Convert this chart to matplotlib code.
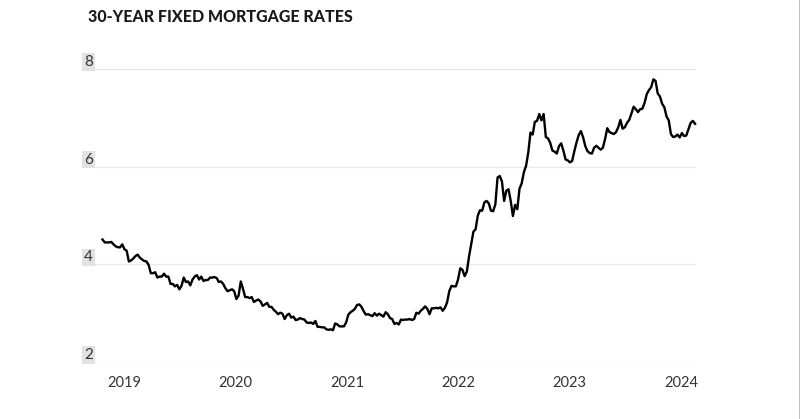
import numpy as np
import pandas as pd
import matplotlib.pyplot as plt
from matplotlib.lines import Line2D

# Tassi settimanali (giovedi), mutuo fisso 30 anni
rates_2019 = [4.51, 4.45, 4.45, 4.45, 4.46, 4.41, 4.37, 4.35, 4.35, 4.41, 4.31, 4.28, 4.06,
              4.08, 4.12, 4.17, 4.20, 4.14, 4.10, 4.07, 4.06, 3.99, 3.82, 3.82, 3.84, 3.73,
              3.75, 3.75, 3.81, 3.75, 3.75, 3.60, 3.60, 3.55, 3.58, 3.49, 3.56, 3.73, 3.64,
              3.65, 3.57, 3.69, 3.75, 3.78, 3.69, 3.75, 3.66, 3.68, 3.68, 3.73, 3.73, 3.74]
rates_2020 = [3.72, 3.64, 3.65, 3.60, 3.51, 3.45, 3.47, 3.49, 3.45, 3.29, 3.36, 3.65, 3.50,
              3.33, 3.33, 3.31, 3.33, 3.23, 3.26, 3.28, 3.24, 3.15, 3.18, 3.21, 3.13, 3.13,
              3.07, 3.03, 2.98, 3.01, 2.99, 2.88, 2.96, 2.99, 2.91, 2.93, 2.86, 2.87, 2.90,
              2.88, 2.87, 2.81, 2.80, 2.81, 2.78, 2.84, 2.72, 2.72, 2.71, 2.71, 2.67, 2.66, 2.67]
rates_2021 = [2.65, 2.79, 2.77, 2.73, 2.73, 2.73, 2.81, 2.97, 3.02, 3.05, 3.09, 3.17,
              3.18, 3.13, 3.04, 2.97, 2.98, 2.96, 2.94, 3.00, 2.95, 2.99, 2.96, 2.93, 3.02,
              2.98, 2.90, 2.88, 2.78, 2.80, 2.77, 2.87, 2.86, 2.87, 2.87, 2.88, 2.86, 2.88,
              3.01, 2.99, 3.05, 3.09, 3.14, 3.09, 2.98, 3.10, 3.10, 3.11, 3.10, 3.12, 3.05, 3.11]
rates_2022 = [3.22, 3.45, 3.56, 3.55, 3.55, 3.69, 3.92, 3.89, 3.76, 3.85, 4.16, 4.42, 4.67,
              4.72, 5.00, 5.11, 5.10, 5.27, 5.30, 5.25, 5.10, 5.09, 5.23, 5.78, 5.81, 5.70,
              5.30, 5.51, 5.54, 5.30, 4.99, 5.22, 5.13, 5.55, 5.66, 5.89, 6.02, 6.29, 6.70,
              6.66, 6.92, 6.94, 7.08, 6.95, 7.08, 6.61, 6.58, 6.49, 6.33, 6.31, 6.27, 6.42]
rates_2023 = [6.48, 6.33, 6.15, 6.13, 6.09, 6.12, 6.32, 6.50, 6.65, 6.73, 6.60, 6.42, 6.32,
              6.28, 6.27, 6.39, 6.43, 6.39, 6.35, 6.39, 6.57, 6.79, 6.71, 6.69, 6.67, 6.71,
              6.81, 6.96, 6.78, 6.81, 6.90, 6.96, 7.09, 7.23, 7.18, 7.12, 7.18, 7.19, 7.31,
              7.49, 7.57, 7.63, 7.79, 7.76, 7.50, 7.44, 7.29, 7.22, 7.03, 6.95, 6.67, 6.61]
rates_2024 = [6.62, 6.66, 6.60, 6.69, 6.63, 6.64, 6.77, 6.90, 6.94, 6.88]

year_labels = ['2019', '2020', '2021', '2022', '2023', '2024']
y_ticks = [2, 4, 6, 8]

rates = rates_2019 + rates_2020 + rates_2021 + rates_2022 + rates_2023 + rates_2024
weeks = pd.date_range('2019-01-03', periods=len(rates), freq='7D')

fig = plt.figure(figsize=(8, 4.19), dpi=100)
ax = fig.add_axes([0.11875, 0.136, 0.75125, 0.699])

ax.plot(weeks, rates, color='black', lw=1.7, clip_on=False)

ax.set_xlim(pd.Timestamp('2018-12-10'), pd.Timestamp('2024-03-10'))
ax.set_ylim(2, 8)

# etichette degli anni
label_pos = pd.date_range('2019-03-14', periods=len(year_labels), freq='355D')
ax.set_xticks(label_pos)
ax.set_xticklabels(year_labels, family='Lato')
ax.set_yticks(y_ticks)
ax.set_yticklabels([str(v) for v in y_ticks], family='Lato')

ax.tick_params(length=0)
ax.tick_params(axis='x', pad=10, labelsize=10.5, labelcolor='#333333')
ax.tick_params(axis='y', pad=1.5, labelsize=11, labelcolor='#333333')
for lab in ax.get_yticklabels():
    lab.set_va('bottom')
    lab.set_bbox(dict(facecolor='#e2e2e2', edgecolor='none', pad=1.2))

ax.grid(axis='y', color='#e8e8e8', lw=1)
ax.set_axisbelow(True)
for s in ax.spines.values():
    s.set_visible(False)

fig.text(88/800, 1 - 9/419, '30-YEAR FIXED MORTGAGE RATES', family='Lato',
         fontweight='black', fontsize=11.5, color='#1a1a1a', va='top', ha='left')

# bordo a destra
fig.add_artist(Line2D([0.9994, 0.9994], [0, 1], color='#b5b5b5', lw=1.2,
                      transform=fig.transFigure))

fig.savefig('out.png', dpi=100)
